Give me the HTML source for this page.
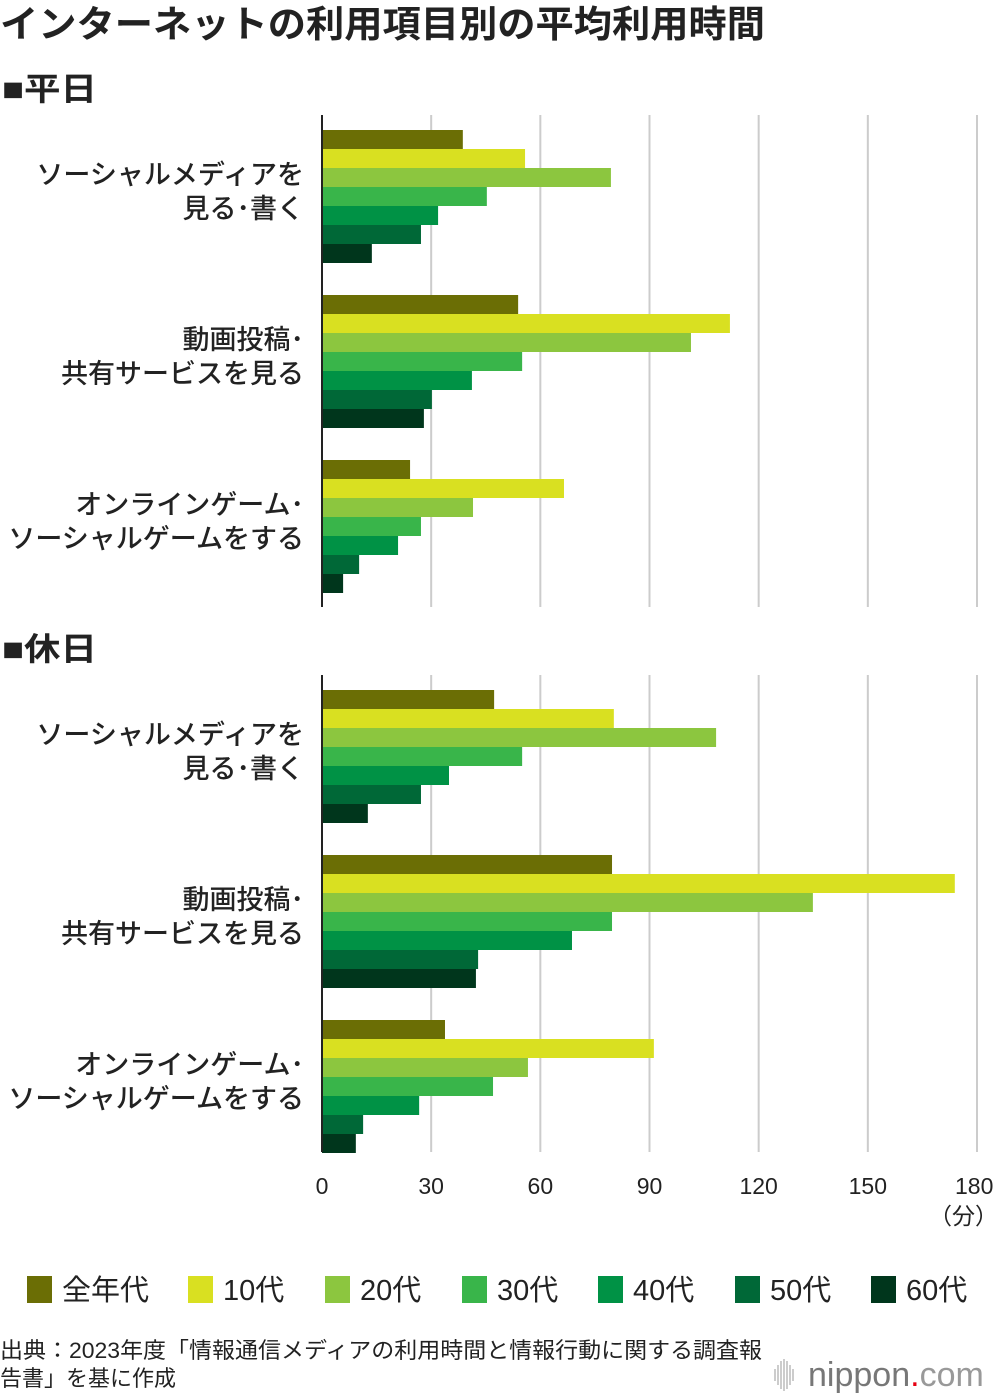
<!DOCTYPE html>
<html><head><meta charset="utf-8"><style>
body{margin:0;background:#fff;font-family:"Liberation Sans","Noto Sans CJK JP",sans-serif;}
#wrap{position:relative;width:1000px;height:1400px;overflow:hidden}
</style></head><body><div id="wrap">
<svg id="chart" width="1000" height="1400" xmlns="http://www.w3.org/2000/svg"></svg>
</div>
<script>
const categories=[["ソーシャルメディアを","見る･書く"],["動画投稿･","共有サービスを見る"],["オンラインゲーム･","ソーシャルゲームをする"]];
const series=["全年代","10代","20代","30代","40代","50代","60代"];
const colors=["#6b6e05","#d9e021","#8cc63f","#39b54a","#009245","#006837","#00361c"];
const weekday=[[38.7,55.8,79.4,45.3,31.9,27.2,13.7],[53.9,112.1,101.4,55.0,41.2,30.2,28.0],[24.2,66.5,41.5,27.2,20.9,10.2,5.8]];
const holiday=[[47.3,80.2,108.3,55.0,34.9,27.2,12.6],[79.7,173.9,134.9,79.7,68.7,42.9,42.3],[33.8,91.2,56.6,47.0,26.7,11.3,9.3]];
const ticks=[0,30,60,90,120,150,180];
const NS="http://www.w3.org/2000/svg";
const svg=document.getElementById('chart');
const x0=322,xs=(977-322)/180;
function X(v){return x0+v*xs;}
function mk(t,a,txt){const e=document.createElementNS(NS,t);for(const k in a)e.setAttribute(k,a[k]);if(txt!=null)e.textContent=txt;svg.appendChild(e);return e;}
let e=mk('text',{x:0,y:37,'font-size':37,'font-weight':'bold',fill:'#222',textLength:765,lengthAdjust:'spacingAndGlyphs'},'インターネットの利用項目別の平均利用時間');


function panel(data,title,top,name){
 let t=mk('text',{x:2,y:top-15,'font-size':32,'font-weight':'bold',fill:'#222',textLength:95,lengthAdjust:'spacingAndGlyphs'},'■'+title);
 
 
 const axTop=top,axBot=top+492-(name==='holiday'?15:0);
 ticks.slice(1).forEach(v=>{let g=mk('line',{x1:X(v),x2:X(v),y1:axTop,y2:axBot,stroke:'#ccc','stroke-width':2});
  
  });
 data.forEach((grp,gi)=>{
  const gy=top+15+gi*165;
  grp.forEach((v,si)=>{let r=mk('rect',{x:x0,y:gy+si*19,width:v*xs,height:19,fill:colors[si]});
   
   });
  const lab=categories[gi];
  lab.forEach((l,li)=>{let tt=mk('text',{x:304,y:gy+54+li*34,'font-size':27,'text-anchor':'end',fill:'#222','font-weight':500},l);
   
   });
 });
 let ax=mk('line',{x1:x0,x2:x0,y1:axTop,y2:axBot,stroke:'#222','stroke-width':2});
 
 
}
panel(weekday,'平日',115,'weekday');
panel(holiday,'休日',675,'holiday');
ticks.forEach(v=>{let t=mk('text',{x:X(v),y:1194,'font-size':23,'text-anchor':v===180?'start':'middle',fill:'#222'},String(v));
 if(v===180)t.setAttribute('x',X(v)-22);
 
 });
e=mk('text',{x:998,y:1224,'font-size':23,'text-anchor':'end',fill:'#222'},'（分）');


const lx=[27,188,325,462,598,735,871];
series.forEach((s,i)=>{let r=mk('rect',{x:lx[i],y:1276,width:25,height:27,fill:colors[i]});
 
 
 let t=mk('text',{x:lx[i]+35,y:1300,'font-size':29,fill:'#222'},s);
 
 });
e=mk('text',{x:0,y:1358,'font-size':22,fill:'#222',textLength:762,lengthAdjust:'spacingAndGlyphs'},'出典：2023年度「情報通信メディアの利用時間と情報行動に関する調査報');


e=mk('text',{x:0,y:1386,'font-size':22,fill:'#222',textLength:176,lengthAdjust:'spacingAndGlyphs'},'告書」を基に作成');


for(let i=0;i<7;i++){let l=mk('line',{x1:775+i*3,x2:775+i*3,y1:1375-[6,10,14,16,14,10,6][i],y2:1375+[6,10,14,16,14,10,6][i],stroke:'#bbb','stroke-width':1.5});
 
 }
e=mk('text',{x:808,y:1386,'font-size':34,fill:'#777'});
e.innerHTML='nippon<tspan fill="#e60012">.</tspan><tspan font-weight="normal" fill="#999">com</tspan>';


</script></body></html>
